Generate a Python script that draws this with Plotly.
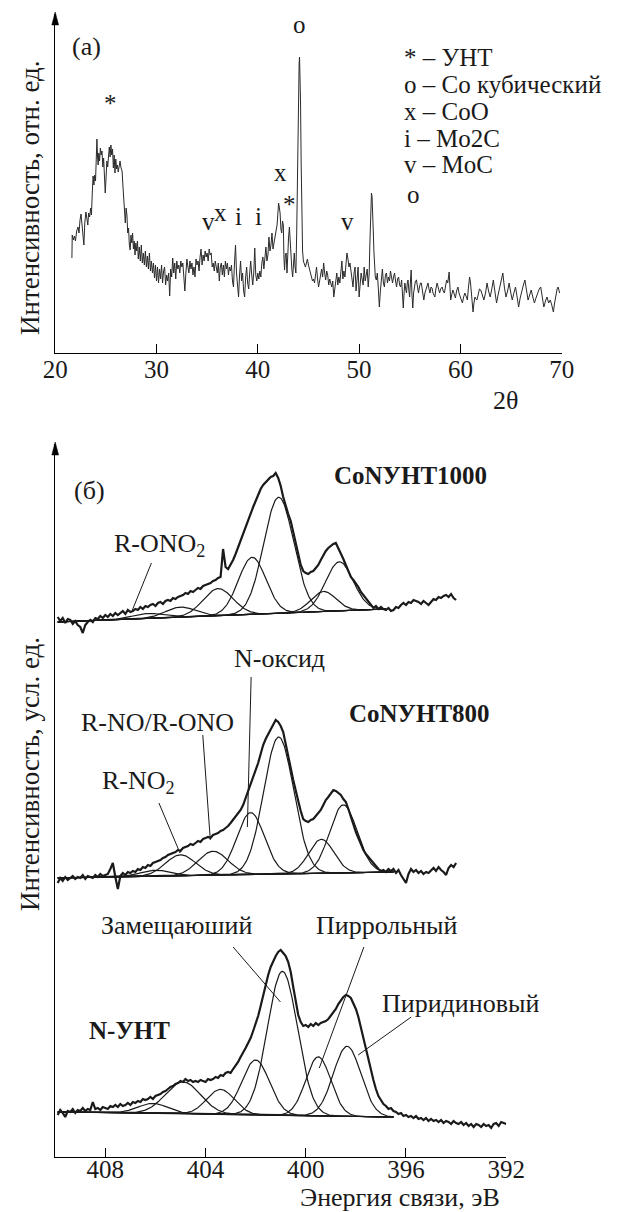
import numpy as np
import plotly.graph_objects as go

# ---------------- (a) XRD data ----------------
xrd_2theta = [21.65, 21.68, 21.80, 21.90, 22.00, 22.12, 22.25, 22.35, 22.45, 22.55, 22.65, 22.75, 22.83, 22.92, 23.03, 23.12, 23.22, 23.30, 23.40, 23.50, 23.58, 23.66, 23.74, 23.82, 23.90, 23.98, 24.06, 24.12, 24.18, 24.24, 24.30, 24.38, 24.46, 24.54, 24.62, 24.70, 24.78, 24.86, 24.94, 25.02, 25.10, 25.18, 25.26, 25.34, 25.42, 25.50, 25.58, 25.66, 25.74, 25.82, 25.90, 25.98, 26.06, 26.14, 26.22, 26.30, 26.40, 26.50, 26.60, 26.70, 26.78, 26.86, 26.92, 27.00, 27.08, 27.16, 27.24, 27.32, 27.40, 27.48, 27.56, 27.64, 27.72, 27.80, 27.88, 27.96, 28.04, 28.12, 28.20, 28.30, 28.40, 28.50, 28.60, 28.70, 28.80, 28.90, 29.00, 29.10, 29.20, 29.30, 29.40, 29.50, 29.60, 29.70, 29.80, 29.90, 30.00, 30.10, 30.20, 30.30, 30.40, 30.50, 30.60, 30.70, 30.80, 30.90, 31.00, 31.10, 31.20, 31.30, 31.40, 31.50, 31.60, 31.70, 31.80, 31.90, 32.00, 32.10, 32.20, 32.30, 32.40, 32.50, 32.60, 32.70, 32.80, 32.90, 33.00, 33.10, 33.20, 33.30, 33.40, 33.50, 33.60, 33.70, 33.80, 33.90, 34.00, 34.10, 34.20, 34.30, 34.40, 34.50, 34.60, 34.70, 34.80, 34.90, 35.00, 35.10, 35.20, 35.30, 35.40, 35.50, 35.60, 35.70, 35.80, 35.90, 36.00, 36.10, 36.20, 36.30, 36.40, 36.50, 36.60, 36.70, 36.80, 36.90, 37.00, 37.10, 37.20, 37.30, 37.40, 37.50, 37.60, 37.70, 37.80, 37.90, 38.00, 38.10, 38.20, 38.30, 38.40, 38.50, 38.60, 38.70, 38.80, 38.90, 39.00, 39.10, 39.20, 39.30, 39.40, 39.50, 39.60, 39.70, 39.80, 39.90, 40.00, 40.10, 40.20, 40.30, 40.40, 40.50, 40.60, 40.70, 40.80, 40.90, 41.00, 41.10, 41.20, 41.30, 41.40, 41.50, 41.60, 41.70, 41.80, 41.90, 42.00, 42.05, 42.12, 42.20, 42.28, 42.36, 42.44, 42.52, 42.58, 42.64, 42.72, 42.80, 42.88, 42.96, 43.04, 43.12, 43.20, 43.28, 43.36, 43.44, 43.52, 43.60, 43.68, 43.76, 43.84, 43.90, 43.96, 44.02, 44.08, 44.12, 44.17, 44.22, 44.28, 44.34, 44.42, 44.50, 44.60, 44.70, 44.80, 44.90, 45.00, 45.10, 45.20, 45.30, 45.40, 45.50, 45.60, 45.70, 45.80, 45.90, 46.00, 46.10, 46.20, 46.30, 46.40, 46.50, 46.60, 46.70, 46.80, 46.90, 47.00, 47.10, 47.20, 47.30, 47.40, 47.50, 47.60, 47.70, 47.80, 47.90, 48.00, 48.10, 48.20, 48.30, 48.40, 48.50, 48.60, 48.70, 48.80, 48.90, 49.00, 49.10, 49.20, 49.30, 49.40, 49.50, 49.60, 49.70, 49.80, 49.90, 50.00, 50.10, 50.20, 50.30, 50.40, 50.50, 50.60, 50.70, 50.80, 50.90, 51.00, 51.05, 51.10, 51.16, 51.22, 51.28, 51.34, 51.40, 51.46, 51.53, 51.60, 51.70, 51.80, 51.90, 52.00, 52.10, 52.20, 52.30, 52.40, 52.50, 52.60, 52.70, 52.80, 52.90, 53.00, 53.10, 53.20, 53.30, 53.40, 53.50, 53.60, 53.70, 53.80, 53.90, 54.00, 54.10, 54.20, 54.30, 54.36, 54.45, 54.52, 54.60, 54.68, 54.76, 54.83, 54.92, 54.99, 55.06, 55.14, 55.22, 55.30, 55.38, 55.46, 55.56, 55.66, 55.76, 55.86, 55.96, 56.06, 56.14, 56.24, 56.32, 56.39, 56.50, 56.60, 56.70, 56.80, 56.90, 57.00, 57.10, 57.20, 57.30, 57.40, 57.48, 57.58, 57.70, 57.80, 57.90, 57.95, 58.05, 58.20, 58.30, 58.42, 58.52, 58.64, 58.75, 58.89, 58.97, 59.04, 59.14, 59.26, 59.36, 59.51, 59.62, 59.76, 59.86, 59.98, 60.08, 60.20, 60.32, 60.44, 60.56, 60.69, 60.80, 60.91, 61.00, 61.07, 61.16, 61.25, 61.34, 61.44, 61.53, 61.63, 61.75, 61.88, 62.01, 62.16, 62.32, 62.48, 62.63, 62.78, 62.94, 63.10, 63.25, 63.40, 63.57, 63.72, 63.88, 64.04, 64.19, 64.34, 64.50, 64.66, 64.81, 64.96, 65.12, 65.28, 65.44, 65.60, 65.75, 65.90, 66.06, 66.22, 66.37, 66.52, 66.68, 66.84, 66.99, 67.15, 67.31, 67.46, 67.62, 67.78, 67.93, 68.08, 68.24, 68.40, 68.55, 68.71, 68.87, 69.02, 69.18, 69.30, 69.43, 69.55, 69.65, 69.72, 69.80]
xrd_intensity = [95, 118, 113, 117, 112, 122, 126, 120, 133, 139, 128, 112, 108, 130, 141, 135, 128, 140, 136, 145, 138, 160, 177, 168, 178, 172, 190, 214, 196, 188, 200, 192, 205, 198, 202, 186, 195, 176, 160, 175, 192, 186, 200, 206, 196, 208, 198, 204, 185, 198, 180, 194, 184, 188, 181, 187, 192, 185, 182, 165, 150, 140, 130, 145, 138, 120, 125, 108, 103, 118, 110, 120, 104, 112, 98, 110, 102, 112, 94, 106, 92, 108, 90, 100, 88, 102, 86, 97, 84, 100, 82, 92, 80, 90, 75, 88, 72, 86, 70, 84, 74, 88, 70, 82, 86, 68, 78, 72, 80, 57, 84, 76, 95, 80, 90, 74, 92, 84, 88, 80, 92, 86, 90, 76, 62, 80, 94, 86, 80, 92, 84, 90, 78, 86, 76, 94, 88, 92, 82, 96, 104, 88, 98, 92, 102, 96, 100, 92, 104, 98, 100, 86, 90, 82, 92, 86, 80, 90, 72, 86, 90, 78, 88, 76, 92, 84, 90, 78, 86, 82, 88, 72, 66, 90, 108, 80, 66, 56, 78, 92, 72, 80, 62, 56, 76, 86, 70, 64, 80, 92, 78, 68, 80, 105, 78, 72, 80, 74, 82, 76, 90, 96, 84, 94, 106, 92, 98, 116, 102, 108, 120, 104, 110, 114, 120, 128, 142, 150, 146, 140, 124, 120, 132, 128, 96, 83, 98, 100, 80, 104, 116, 126, 110, 93, 84, 76, 92, 100, 86, 80, 120, 175, 225, 262, 290, 296, 282, 250, 190, 140, 102, 92, 88, 86, 90, 94, 88, 82, 80, 76, 72, 74, 70, 78, 86, 74, 66, 72, 80, 84, 76, 90, 80, 73, 82, 78, 68, 74, 70, 66, 72, 56, 64, 74, 80, 68, 76, 70, 84, 92, 74, 82, 76, 90, 100, 94, 86, 90, 80, 72, 66, 80, 86, 62, 76, 86, 56, 72, 80, 74, 68, 86, 72, 78, 84, 66, 80, 105, 126, 150, 160, 156, 144, 122, 102, 86, 76, 73, 80, 64, 46, 62, 74, 84, 70, 66, 78, 80, 70, 76, 72, 82, 76, 70, 76, 80, 72, 66, 74, 76, 68, 66, 73, 60, 45, 62, 70, 64, 60, 70, 73, 62, 56, 70, 83, 58, 45, 60, 66, 72, 73, 64, 60, 66, 70, 70, 62, 58, 53, 60, 63, 68, 70, 64, 60, 66, 65, 60, 58, 56, 64, 70, 66, 62, 60, 64, 66, 62, 60, 66, 73, 70, 81, 66, 53, 58, 63, 60, 55, 62, 66, 60, 56, 52, 50, 56, 60, 57, 53, 66, 76, 70, 63, 52, 41, 50, 56, 54, 53, 58, 64, 63, 58, 53, 60, 70, 62, 56, 64, 73, 62, 50, 58, 66, 74, 80, 66, 56, 62, 70, 61, 53, 60, 66, 56, 46, 55, 63, 68, 73, 62, 53, 58, 63, 56, 50, 55, 60, 64, 66, 56, 46, 52, 56, 50, 53, 48, 41, 50, 60, 64, 66, 62, 60]

xrd_ticks = [20, 30, 40, 50, 60, 70]
xrd_phase_marks = ["*", "v", "x", "i", "i", "x", "*", "o", "v", "o"]
xrd_mark_2theta = [25.42, 35.11, 36.33, 38.12, 40.08, 42.27, 43.17, 44.11, 48.87, 55.33]
xrd_mark_int = [249, 131, 140, 136, 136, 180, 148, 328, 131, 158]
xrd_legend = ["* – УНТ", "o – Co кубический", "x – CoO", "i – Mo2C", "v – MoC"]

# ---------------- (б) XPS N1s data ----------------
xps_ticks = [408, 404, 400, 396, 392]
ev_start = 409.9
nunt_I = [42, 47, 44, 40, 46, 45, 48, 44, 47, 46, 49, 46, 48, 47, 55, 48, 49, 47, 50, 49, 48, 51, 50, 52, 50, 53, 51, 52, 54, 52, 55, 54, 56, 55, 58, 57, 58, 60, 58, 61, 62, 63, 65, 66, 68, 70, 71, 73, 74, 76, 75, 78, 76, 77, 75, 76, 75, 77, 76, 75, 78, 77, 78, 80, 79, 82, 81, 84, 85, 84, 88, 91, 95, 100, 104, 109, 114, 119, 126, 133, 141, 151, 162, 172, 182, 190, 196, 201, 205, 207, 204, 201, 195, 185, 170, 154, 142, 135, 131, 132, 130, 133, 131, 134, 132, 134, 135, 136, 138, 141, 145, 148, 153, 157, 160, 162, 161, 159, 154, 148, 140, 129, 118, 108, 98, 88, 77, 68, 61, 57, 53, 51, 48, 49, 46, 45, 43, 44, 41, 42, 40, 41, 39, 41, 38, 39, 37, 39, 36, 38, 36, 37, 35, 37, 34, 36, 35, 33, 36, 34, 33, 35, 32, 34, 31, 33, 30, 33, 32, 30, 33, 31, 32, 29, 33, 34, 31, 35, 34, 33]
co800_I = [274, 279, 276, 280, 277, 279, 281, 278, 280, 279, 282, 278, 281, 280, 279, 282, 280, 283, 281, 282, 283, 288, 294, 280, 268, 281, 284, 282, 285, 284, 286, 285, 288, 287, 290, 289, 292, 291, 294, 295, 296, 297, 299, 300, 302, 303, 304, 305, 307, 306, 309, 310, 311, 313, 312, 314, 316, 315, 318, 319, 320, 319, 322, 323, 324, 326, 327, 329, 331, 334, 337, 340, 343, 347, 352, 359, 366, 373, 379, 386, 394, 403, 412, 418, 423, 428, 433, 437, 435, 431, 425, 414, 400, 389, 377, 365, 356, 346, 338, 336, 335, 337, 338, 341, 344, 347, 352, 357, 360, 363, 367, 366, 364, 362, 358, 355, 348, 340, 333, 325, 319, 312, 307, 303, 300, 297, 294, 290, 288, 286, 287, 285, 288, 286, 288, 284, 287, 282, 278, 274, 283, 288, 285, 287, 284, 286, 283, 285, 284, 287, 289, 286, 290, 287, 285, 282, 289, 292, 290, 294]
co1000_I = [540, 536, 539, 534, 538, 537, 533, 536, 532, 530, 524, 532, 535, 537, 535, 539, 538, 541, 539, 542, 540, 543, 541, 544, 542, 544, 546, 543, 547, 545, 546, 548, 547, 550, 548, 551, 550, 552, 553, 551, 554, 555, 553, 556, 557, 556, 559, 558, 560, 561, 562, 564, 563, 566, 565, 567, 569, 568, 571, 572, 573, 574, 576, 577, 579, 580, 608, 590, 588, 592, 597, 603, 610, 616, 623, 630, 636, 643, 650, 656, 662, 668, 672, 675, 678, 680, 681, 684, 679, 671, 660, 651, 643, 636, 624, 613, 603, 592, 586, 584, 583, 585, 586, 589, 592, 597, 602, 606, 609, 611, 613, 614, 609, 604, 598, 592, 586, 580, 577, 574, 570, 565, 562, 559, 556, 552, 549, 551, 548, 550, 548, 547, 549, 546, 547, 550, 549, 552, 554, 552, 555, 554, 557, 556, 555, 553, 556, 554, 552, 555, 558, 557, 560, 559, 561, 562, 560, 563, 559, 557]

# fitted components: centre (eV), height above baseline, width (sigma, eV)
nunt_centres = [406.1, 404.9, 403.4, 402.0, 400.93, 399.5, 398.35]
nunt_heights = [10, 32, 25, 55, 144, 59, 70]
nunt_sigmas = [0.6, 0.7, 0.55, 0.55, 0.6, 0.5, 0.55]
nunt_baseline = [(409.9, 45), (396.5, 40)]

co800_centres = [406.0, 405.0, 403.7, 402.2, 401.08, 399.38, 398.5]
co800_heights = [6, 21, 24, 62, 137, 34, 68]
co800_sigmas = [0.6, 0.6, 0.6, 0.55, 0.6, 0.5, 0.55]
co800_baseline = [(409.9, 279), (396.5, 285)]

co1000_centres = [406.3, 405.0, 403.5, 402.14, 401.08, 399.29, 398.66]
co1000_heights = [5, 10, 27, 57, 116, 20, 49]
co1000_sigmas = [0.6, 0.6, 0.6, 0.55, 0.6, 0.5, 0.55]
co1000_baseline = [(409.9, 535), (396.8, 548)]

FONT = "Liberation Serif"
INK = "#1a1a1a"


def F(size=26):
    return dict(family=FONT, size=size, color=INK)


fig = go.Figure()

fig.add_trace(go.Scatter(x=xrd_2theta, y=xrd_intensity, mode="lines",
                         line=dict(color="#2a2a2a", width=1), xaxis="x", yaxis="y",
                         hoverinfo="skip"))


def energies(n):
    return [round(ev_start - 0.1 * i, 2) for i in range(n)]


def add_spectrum(I, centres, heights, sigmas, base):
    ev = energies(len(I))
    (e0, b0), (e1, b1) = base
    grid = np.linspace(e0, e1, 400)
    bl = b0 + (b1 - b0) * (grid - e0) / (e1 - e0)
    fig.add_trace(go.Scatter(x=grid, y=bl, mode="lines", line=dict(color=INK, width=1.2),
                             xaxis="x2", yaxis="y2", hoverinfo="skip"))
    for c, h, s in zip(centres, heights, sigmas):
        y = bl + h * np.exp(-(grid - c) ** 2 / (2 * s * s))
        fig.add_trace(go.Scatter(x=grid, y=y, mode="lines", line=dict(color=INK, width=1.2),
                                 xaxis="x2", yaxis="y2", hoverinfo="skip"))
    fig.add_trace(go.Scatter(x=ev, y=I, mode="lines", line=dict(color=INK, width=2.2),
                             xaxis="x2", yaxis="y2", hoverinfo="skip"))


add_spectrum(co1000_I, co1000_centres, co1000_heights, co1000_sigmas, co1000_baseline)
add_spectrum(co800_I, co800_centres, co800_heights, co800_sigmas, co800_baseline)
add_spectrum(nunt_I, nunt_centres, nunt_heights, nunt_sigmas, nunt_baseline)

W, H = 621, 1212
AX0 = 44.5
axis_common = dict(showgrid=False, zeroline=False, showline=True, linecolor="black", linewidth=1.2)

fig.update_layout(
    width=W, height=H, margin=dict(l=0, r=0, t=0, b=0),
    paper_bgcolor="white", plot_bgcolor="white", showlegend=False,
    font=F(26),
    xaxis=dict(**axis_common, domain=[AX0 / W, 578.5 / W], range=[20, 70], anchor="y",
               tickmode="array", tickvals=xrd_ticks, ticktext=[str(t) for t in xrd_ticks],
               ticks="inside", ticklen=9, tickwidth=1.2, tickcolor="black", tickfont=F(25),
               ticklabelstandoff=-6),
    yaxis=dict(**axis_common, domain=[1 - 353 / H, 1 - 14 / H], range=[0, 339], anchor="x",
               showticklabels=False, ticks=""),
    xaxis2=dict(**axis_common, domain=[AX0 / W, 520 / W], range=[410, 392], anchor="y2",
                tickmode="array", tickvals=xps_ticks, ticktext=[str(t) for t in xps_ticks],
                ticks="inside", ticklen=9, tickwidth=1.2, tickcolor="black", tickfont=F(25),
                ticklabelstandoff=-10),
    yaxis2=dict(**axis_common, domain=[1 - 1157 / H, 1 - 444 / H], range=[0, 713], anchor="x2",
                showticklabels=False, ticks=""),
)


def P(px, py, text, size=26, angle=0, xanchor="center"):
    return dict(x=px / W, y=1 - py / H, xref="paper", yref="paper", text=text, showarrow=False,
                xanchor=xanchor, yanchor="middle", textangle=angle, font=F(size))


ann = [
    P(18, 198, "Интенсивность, отн. ед.", 27, -90),
    P(18, 774, "Интенсивность, усл. ед.", 27, -90),
    P(519, 400, "2θ", 26),
    P(408, 1197, "Энергия связи, эВ", 26),
]

ann.append(dict(x=23.1, y=306, xref="x", yref="y", text="(a)", showarrow=False,
                xanchor="center", yanchor="middle", font=F(26)))
for t, xx, yy in zip(xrd_phase_marks, xrd_mark_2theta, xrd_mark_int):
    ann.append(dict(x=xx, y=yy, xref="x", yref="y", text=t, showarrow=False,
                    xanchor="center", yanchor="middle", font=F(25)))
for k, t in enumerate(xrd_legend):
    ann.append(P(410, 58 + 26.7 * k, t, 25, xanchor="left"))

lab = [
    ("(б)", 408.65, 667, False),
    ("CoNУНТ1000", 395.8, 682, True),
    ("R-ONO<sub>2</sub>", 405.82, 612, False),
    ("N-оксид", 401.05, 499, False),
    ("CoNУНТ800", 395.45, 444, True),
    ("R-NO/R-ONO", 405.93, 435, False),
    ("R-NO<sub>2</sub>", 406.69, 375, False),
    ("Замещаюший", 405.17, 232, False),
    ("Пиррольный", 396.77, 232, False),
    ("Пиридиновый", 393.82, 154, False),
    ("N-УНТ", 407.03, 127, True),
]
for t, xx, yy, bold in lab:
    txt = "<b>%s</b>" % t if bold else t
    ann.append(dict(x=xx, y=yy, xref="x2", yref="y2", text=txt, showarrow=False,
                    xanchor="center", yanchor="middle", font=F(25 if bold else 26)))

fig.update_layout(annotations=ann)

# arrow heads on the intensity axes
for tip in (12, 442):
    x0, y0 = AX0 / W, 1 - tip / H
    xl, xr = (AX0 - 3.6) / W, (AX0 + 3.6) / W
    yb = 1 - (tip + 13) / H
    fig.add_shape(type="path", xref="paper", yref="paper",
                  path="M %f,%f L %f,%f L %f,%f Z" % (x0, y0, xl, yb, xr, yb),
                  fillcolor="black", line=dict(color="black", width=0.5))

leaders = [
    ((406.16, 594), (406.92, 547)),
    ((402.18, 480), (402.33, 330)),
    ((404.11, 422), (403.81, 317)),
    ((405.86, 354), (405.02, 304)),
    ((402.90, 210), (401.01, 155)),
    ((397.68, 210), (399.46, 89)),
    ((395.79, 140), (397.91, 102)),
]
for (x0, y0), (x1, y1) in leaders:
    fig.add_shape(type="line", x0=x0, y0=y0, x1=x1, y1=y1, xref="x2", yref="y2",
                  line=dict(color=INK, width=1))

fig.write_html("out.html", config={"displayModeBar": False},
               post_script="document.body.style.margin='0';document.body.style.overflow='hidden';")
